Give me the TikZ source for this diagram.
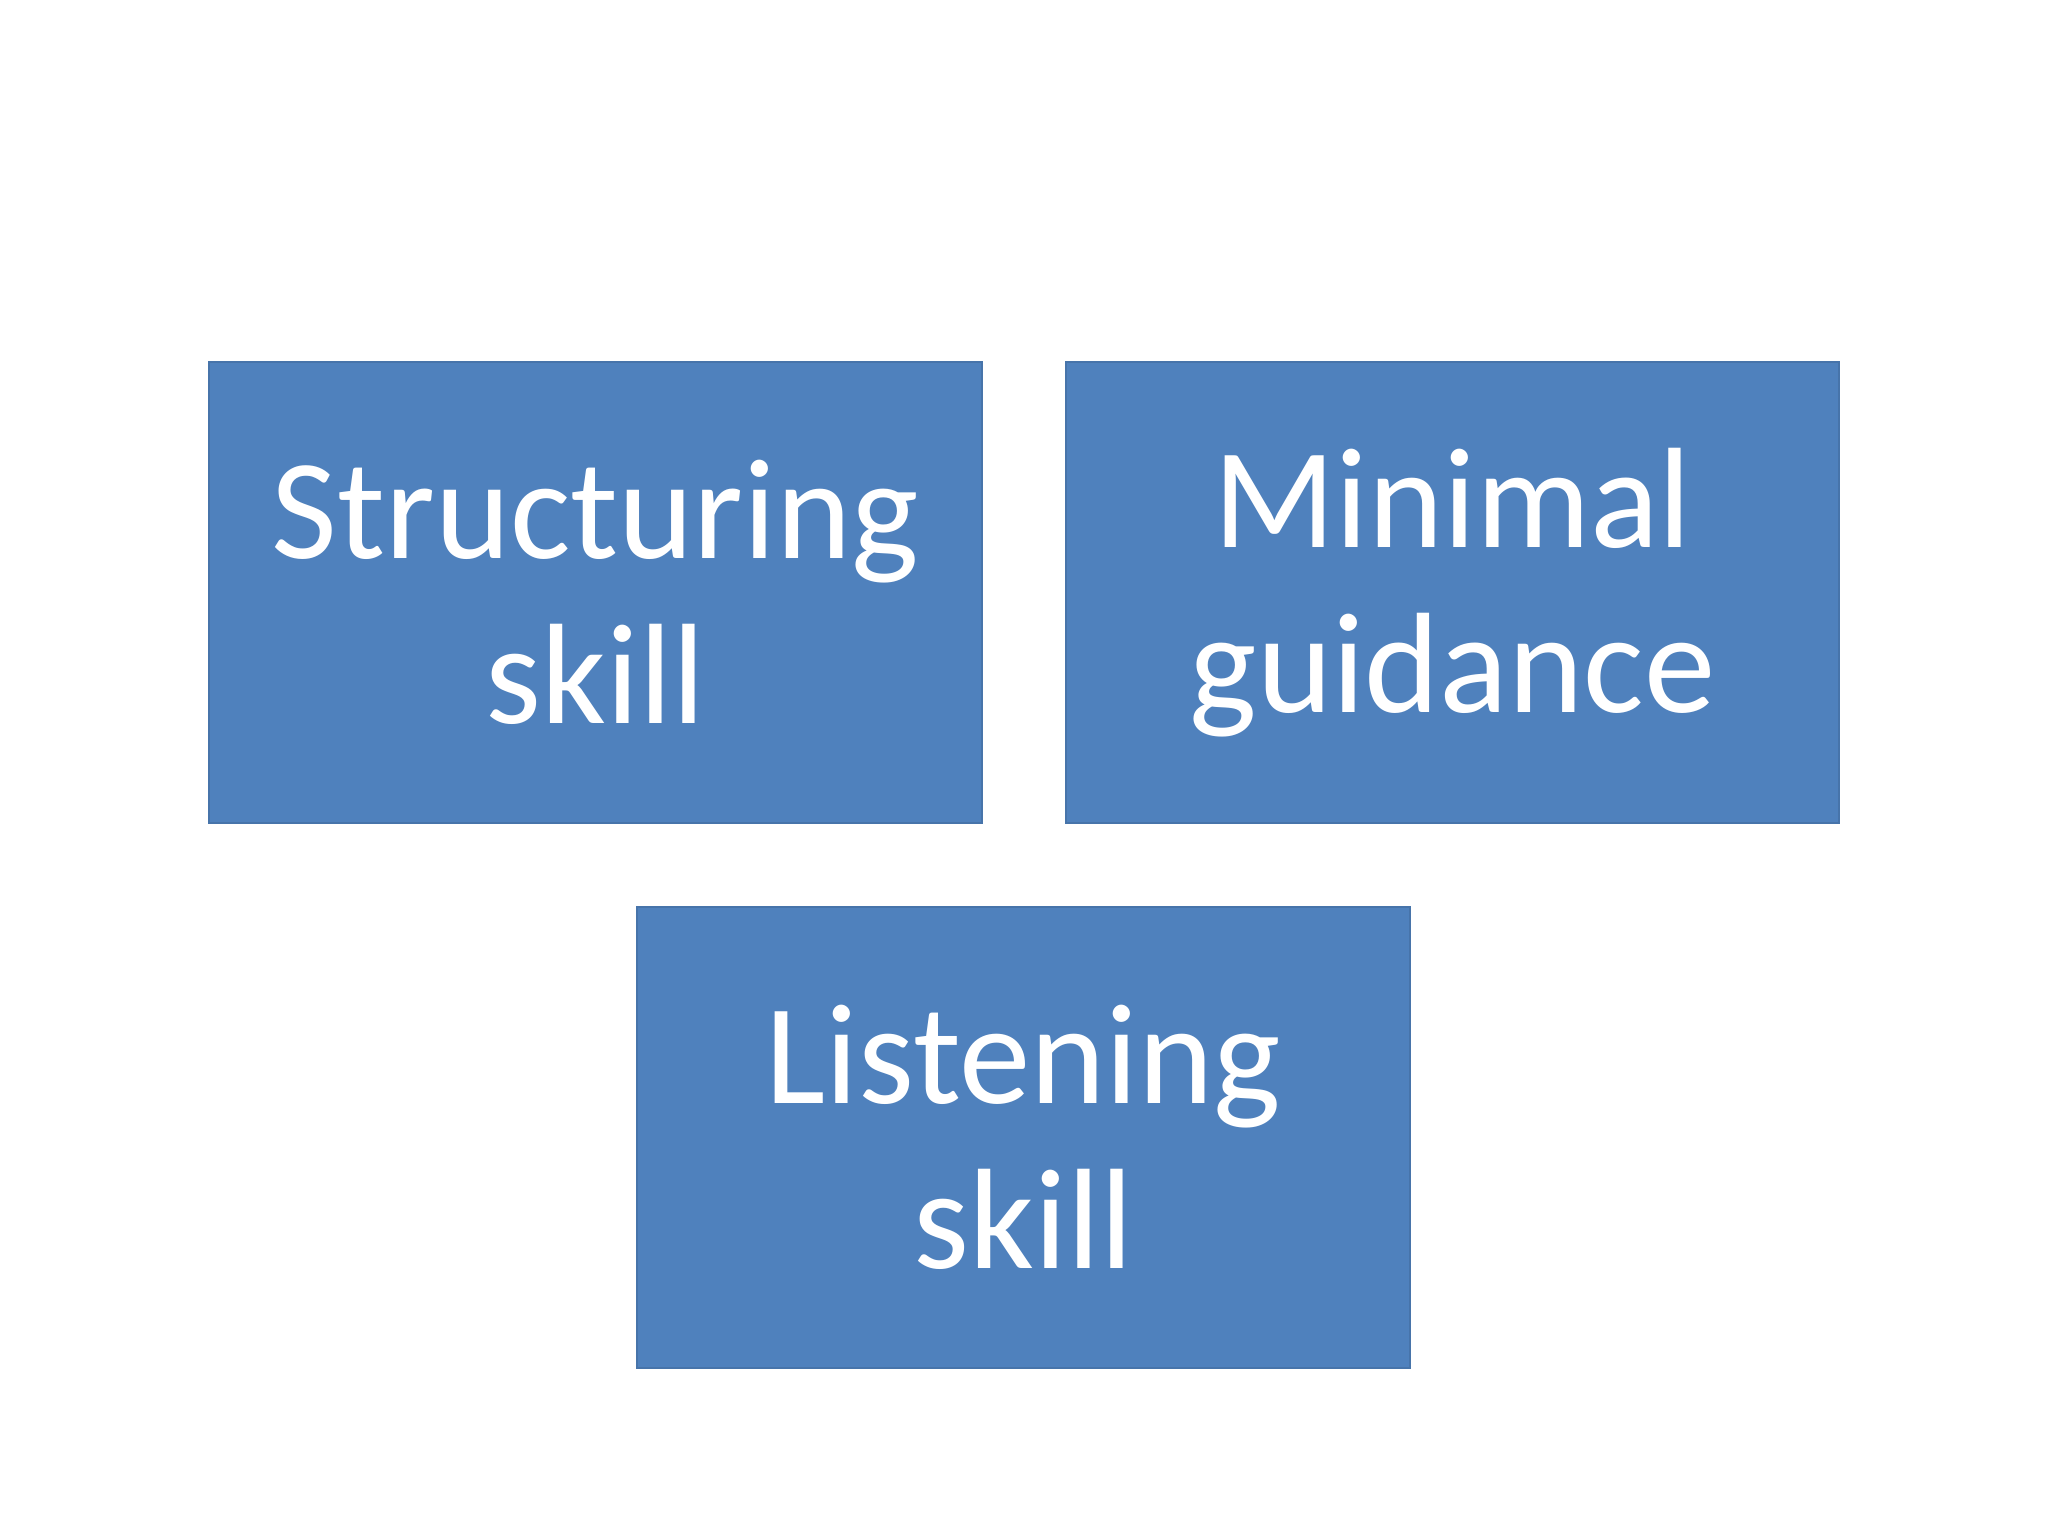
\documentclass[tikz,border=0pt]{standalone}
\usepackage{fontspec}
\setmainfont{Carlito}
\definecolor{boxblue}{HTML}{4F81BD}
\begin{document}
\begin{tikzpicture}[x=1pt,y=1pt,
  bx/.style={fill=boxblue,draw=boxblue!90!black,line width=1.5pt,minimum width=773pt,minimum height=461pt,inner sep=0pt,
    text=white,align=center,font=\fontsize{143}{165}\selectfont}]
\useasboundingbox (0,0) rectangle (2048,1536);
\node[bx] (a) at (595.5,943.5) {Structuring\\skill};
\node[bx] (b) at (1452.5,943.5) {Minimal\\guidance};
\node[bx] (c) at (1023.5,398.5) {Listening\\skill};
\end{tikzpicture}
\end{document}
